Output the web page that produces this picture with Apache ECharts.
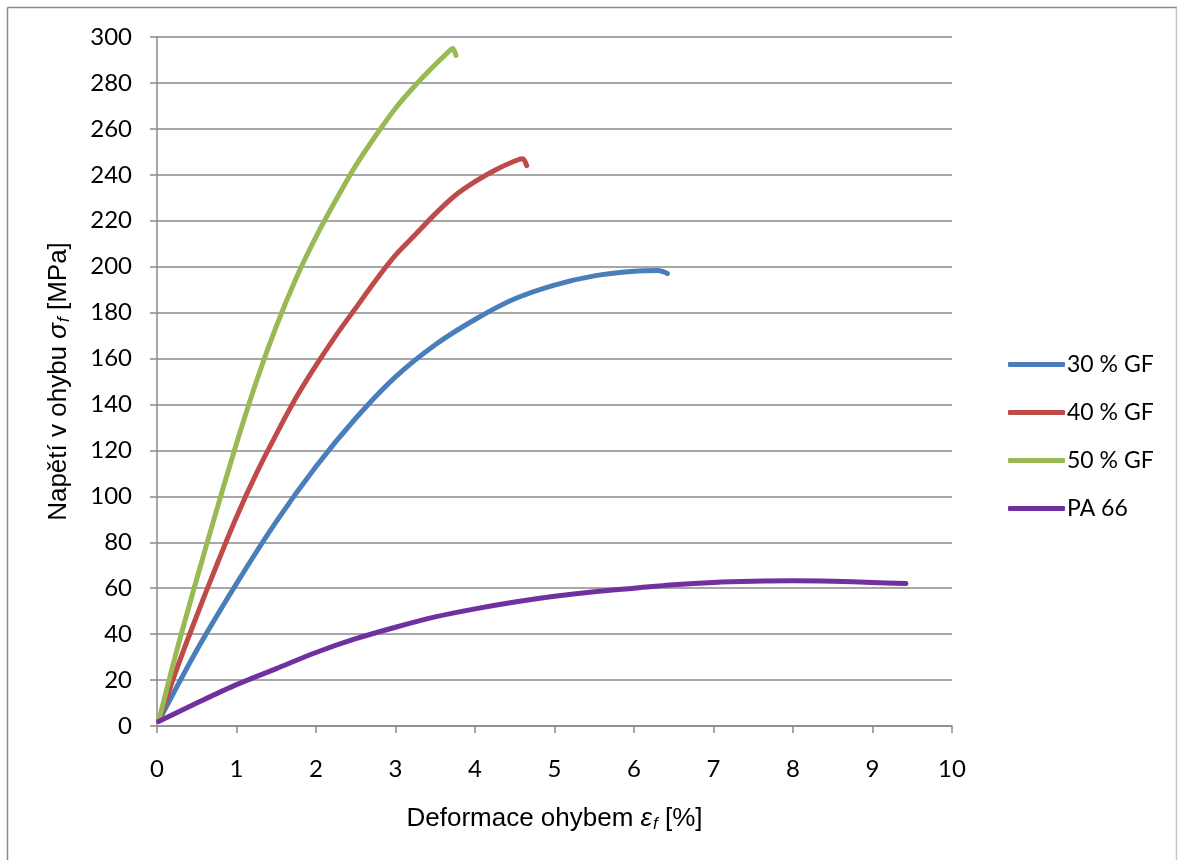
<!DOCTYPE html>
<html>
<head>
<meta charset="utf-8">
<script src="https://cdn.jsdelivr.net/npm/echarts@6/dist/echarts.min.js"></script>
<style>html,body{margin:0;padding:0;background:#fff}#c{width:1178px;height:860px}</style>
</head>
<body>
<div id="c"></div>
<script>
// Data (strain %, stress MPa)
const seriesNames = ['30 % GF', '40 % GF', '50 % GF', 'PA 66'];
const gf30 = [[0.02,2],[0.5,33],[1,62],[1.5,89],[2,113],[2.5,134],[3,152],[3.5,166],[4,177],[4.5,186],[5,192],[5.5,196],[6,198],[6.3,198.3],[6.42,197]];
const gf40 = [[0.02,2],[0.25,25],[0.5,48],[0.75,70],[1,91],[1.25,110],[1.5,127],[1.75,143],[2,157],[2.25,170],[2.5,182],[2.75,194],[3,205],[3.25,214],[3.5,223],[3.75,231],[4,237],[4.25,242],[4.5,246],[4.6,247],[4.65,244]];
const gf50 = [[0.02,2],[0.25,33],[0.5,64],[0.75,94],[1,123],[1.25,150],[1.5,174],[1.75,195],[2,213],[2.25,229],[2.5,244],[2.75,257],[3,269],[3.25,279],[3.5,288],[3.65,293],[3.72,295],[3.76,292]];
const pa66 = [[0.02,2],[0.5,10],[1,18],[1.5,25],[2,32],[2.5,38],[3,43],[3.5,47.5],[4,51],[4.5,54],[5,56.5],[5.5,58.5],[6,60],[6.5,61.5],[7,62.5],[7.5,63],[8,63.2],[8.5,63],[9,62.5],[9.42,62]];
const xTicks = {min: 0, max: 10, interval: 1};
const yTicks = {min: 0, max: 300, interval: 20};
const colors = ['#4A7EBB', '#BE4B48', '#98B954', '#7030A0'];
const allData = [gf30, gf40, gf50, pa66];

const chart = echarts.init(document.getElementById('c'), null, {renderer: 'canvas'});
const gridColor = '#8a8a8a';
const tickFont = {fontFamily: 'Lato', fontSize: 24, color: '#000'};
const titleRich = {
  n: {fontFamily: 'Liberation Sans', fontSize: 26, color: '#000'},
  i: {fontFamily: 'Liberation Sans', fontSize: 26, fontStyle: 'italic', color: '#000'},
  s: {fontFamily: 'Liberation Sans', fontSize: 17, fontStyle: 'italic', color: '#000', padding: [12, 0, 0, 1]}
};
chart.setOption({
  animation: false,
  backgroundColor: '#fff',
  color: colors,
  grid: {left: 157, right: 226, top: 37, bottom: 134, containLabel: false},
  legend: {
    orient: 'vertical', left: 1003, top: 348,
    itemWidth: 57, itemHeight: 5, itemGap: 25,
    icon: 'roundRect',
    textStyle: {fontFamily: 'Lato', fontSize: 23, color: '#000', padding: [0,0,0,-3]},
    data: seriesNames
  },
  xAxis: {
    type: 'value', min: xTicks.min, max: xTicks.max, interval: xTicks.interval,
    name: '{n|Deformace ohybem }{i|ε}{s|f}{n| [%]}',
    nameLocation: 'middle', nameGap: 78,
    nameTextStyle: {rich: titleRich},
    axisLine: {show: true, lineStyle: {color: gridColor, width: 1.5}},
    axisTick: {show: true, length: 7, lineStyle: {color: gridColor, width: 1.5}},
    axisLabel: Object.assign({margin: 31}, tickFont),
    splitLine: {show: false}
  },
  yAxis: {
    type: 'value', min: yTicks.min, max: yTicks.max, interval: yTicks.interval,
    name: '{n|Napětí v ohybu }{i|σ}{s|f}{n| [MPa]}',
    nameLocation: 'middle', nameGap: 84, nameRotate: 90,
    nameTextStyle: {rich: titleRich},
    axisLine: {show: true, lineStyle: {color: gridColor, width: 1.5}},
    axisTick: {show: true, length: 7, lineStyle: {color: gridColor, width: 1.5}},
    axisLabel: Object.assign({margin: 25}, tickFont),
    splitLine: {show: true, lineStyle: {color: gridColor, width: 1.5}}
  },
  graphic: [
    {type: 'line', shape: {x1: 7.5, y1: 7.5, x2: 1177, y2: 7.5}, style: {stroke: '#8a8a8a', lineWidth: 1.5}},
    {type: 'line', shape: {x1: 7.5, y1: 7.5, x2: 7.5, y2: 860}, style: {stroke: '#8a8a8a', lineWidth: 1.5}},
    {type: 'line', shape: {x1: 1176.5, y1: 7.5, x2: 1176.5, y2: 860}, style: {stroke: '#c8c8c8', lineWidth: 1.5}}
  ],
  series: seriesNames.map((nm, k) => ({
    name: nm, type: 'line', data: allData[k], smooth: 0.3,
    showSymbol: false, symbol: 'none',
    lineStyle: {width: 5, color: colors[k], cap: 'round', join: 'round'},
    itemStyle: {color: colors[k]}
  }))
});
</script>
</body>
</html>
